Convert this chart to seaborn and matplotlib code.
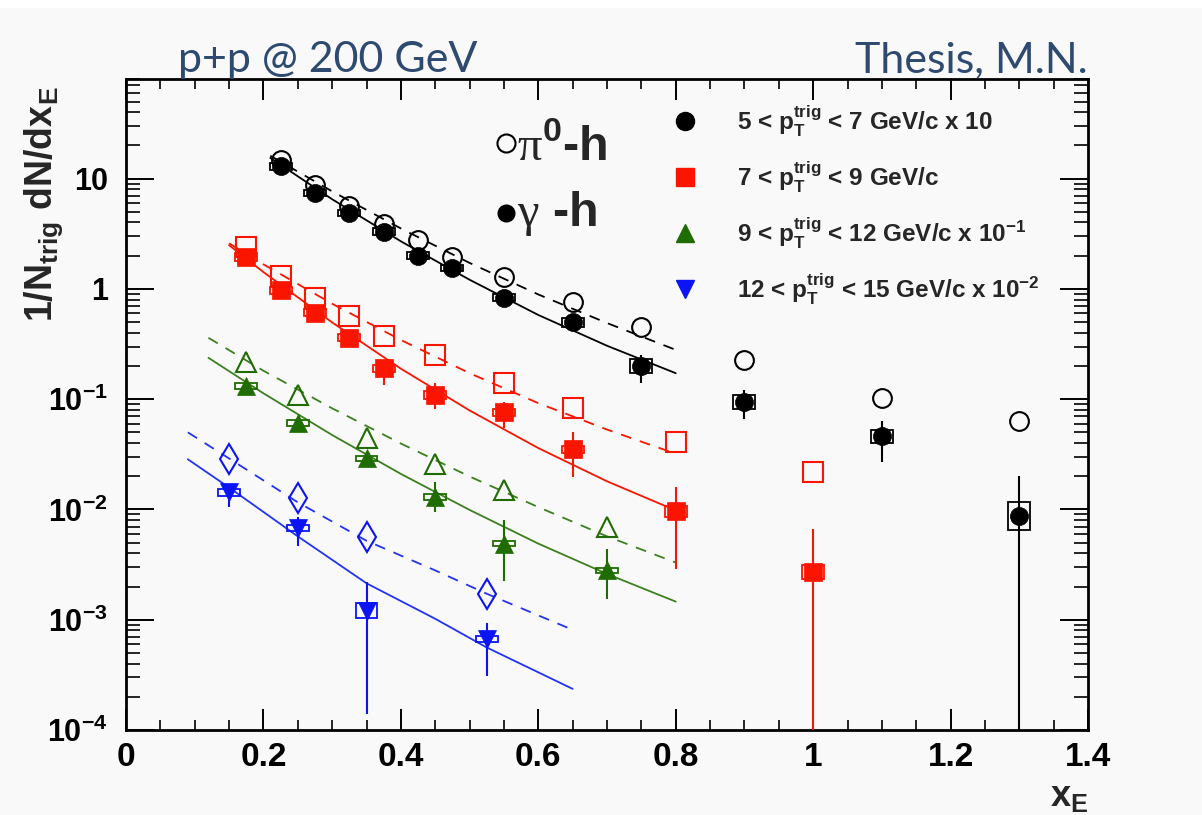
import numpy as np
import pandas as pd
import matplotlib
matplotlib.use('Agg')
import matplotlib.pyplot as plt
import seaborn as sns
from matplotlib.patches import Rectangle
from matplotlib.ticker import FixedLocator, FixedFormatter, MultipleLocator, NullFormatter

# ---------------- data ----------------
# 5 < pT < 7 GeV/c (x10)
bk_x = [0.225, 0.275, 0.325, 0.375, 0.425, 0.475, 0.55, 0.65, 0.75, 0.9, 1.1, 1.3]
bk_gamma = [12.9, 7.4, 4.9, 3.3, 2.0, 1.55, 0.83, 0.50, 0.20, 0.094, 0.046, 0.0087]
bk_gamma_lo = [12.2, 7.0, 4.6, 3.1, 1.9, 1.47, 0.78, 0.45, 0.14, 0.066, 0.027, 5e-5]
bk_gamma_hi = [13.6, 7.8, 5.2, 3.5, 2.1, 1.65, 0.88, 0.55, 0.25, 0.12, 0.063, 0.020]
bk_sys = [0.07, 0.07, 0.07, 0.07, 0.07, 0.07, 0.08, 0.10, 0.15, 0.15, 0.15, 0.35]
bk_pi = [14.8, 8.7, 5.7, 3.9, 2.8, 1.95, 1.29, 0.76, 0.45, 0.226, 0.102, 0.064]

# 7 < pT < 9 GeV/c
rd_x = [0.175, 0.225, 0.275, 0.325, 0.375, 0.45, 0.55, 0.65, 0.8, 1.0]
rd_gamma = [1.95, 0.97, 0.61, 0.36, 0.19, 0.109, 0.076, 0.035, 0.0096, 0.0027]
rd_gamma_lo = [1.85, 0.92, 0.58, 0.34, 0.134, 0.081, 0.055, 0.0195, 0.0029, 5e-5]
rd_gamma_hi = [2.05, 1.02, 0.64, 0.38, 0.226, 0.14, 0.094, 0.05, 0.016, 0.0067]
rd_sys = [0.08, 0.08, 0.08, 0.08, 0.08, 0.08, 0.08, 0.08, 0.12, 0.15]
rd_pi = [2.4, 1.31, 0.83, 0.57, 0.374, 0.25, 0.14, 0.083, 0.041, 0.0218]

# 9 < pT < 12 GeV/c (x0.1)
gr_x = [0.175, 0.25, 0.35, 0.45, 0.55, 0.7]
gr_gamma = [0.131, 0.0605, 0.029, 0.0129, 0.0049, 0.0028]
gr_gamma_lo = [0.124, 0.057, 0.027, 0.0094, 0.00226, 0.00155]
gr_gamma_hi = [0.138, 0.064, 0.031, 0.0176, 0.0081, 0.0044]
gr_sys = [0.06, 0.06, 0.06, 0.06, 0.06, 0.06]
gr_pi = [0.217, 0.109, 0.044, 0.026, 0.0149, 0.0069]

# 12 < pT < 15 GeV/c (x0.01)
bl_x = [0.15, 0.25, 0.35, 0.525]
bl_gamma = [0.0143, 0.0068, 0.00121, 0.00067]
bl_gamma_lo = [0.0105, 0.0047, 0.00014, 0.000306]
bl_gamma_hi = [0.016, 0.0085, 0.0022, 0.00094]
bl_sys = [0.07, 0.07, 0.16, 0.07]
bl_pi = [0.0285, 0.0126, 0.0056, 0.00172]

# fit curves (solid: gamma-h, dashed: pi0-h)
bk_fit_x = [0.21, 0.3, 0.4, 0.5, 0.6, 0.7, 0.8]
bk_fit_solid = [15.4, 6.5, 2.7, 1.21, 0.58, 0.305, 0.172]
bk_fit_dash = [16.1, 7.66, 3.53, 1.72, 0.89, 0.49, 0.28]
rd_fit_x = [0.15, 0.2, 0.3, 0.4, 0.5, 0.6, 0.7, 0.8]
rd_fit_solid = [2.49, 1.42, 0.496, 0.189, 0.079, 0.036, 0.018, 0.0098]
rd_fit_dash = [2.59, 1.67, 0.733, 0.344, 0.172, 0.092, 0.053, 0.032]
gr_fit_x = [0.12, 0.2, 0.3, 0.4, 0.5, 0.6, 0.7, 0.8]
gr_fit_solid = [0.237, 0.113, 0.0473, 0.021, 0.0099, 0.0049, 0.0026, 0.00146]
gr_fit_dash = [0.36, 0.181, 0.0826, 0.0396, 0.0199, 0.0105, 0.0057, 0.0033]
bl_fit_x = [0.09, 0.15, 0.25, 0.35, 0.45, 0.525, 0.65]
bl_fit_solid = [0.0285, 0.0158, 0.0057, 0.00214, 0.00102, 0.00056, 0.000236]
bl_fit_dash = [0.050, 0.029, 0.0116, 0.0052, 0.0028, 0.00172, 0.00081]

legend_labels = [r'5 < $p_{T}^{trig}$ < 7 GeV/c x 10',
                 r'7 < $p_{T}^{trig}$ < 9 GeV/c',
                 r'9 < $p_{T}^{trig}$ < 12 GeV/c x 10$^{-1}$',
                 r'12 < $p_{T}^{trig}$ < 15 GeV/c x 10$^{-2}$']
x_ticks = [0, 0.2, 0.4, 0.6, 0.8, 1.0, 1.2, 1.4]
x_tick_labels = ['0', '0.2', '0.4', '0.6', '0.8', '1', '1.2', '1.4']
y_ticks = [1e-4, 1e-3, 1e-2, 1e-1, 1, 10]
y_tick_labels = ['10$^{-4}$', '10$^{-3}$', '10$^{-2}$', '10$^{-1}$', '1', '10']

# ---------------- style ----------------
sns.set_theme(style='ticks')
plt.rcParams['font.family'] = ['Liberation Sans', 'DejaVu Sans']
plt.rcParams['mathtext.fontset'] = 'custom'
plt.rcParams['mathtext.rm'] = 'Liberation Serif'
plt.rcParams['mathtext.bf'] = 'Liberation Sans:bold'
plt.rcParams['mathtext.it'] = 'Liberation Sans:italic'
plt.rcParams['mathtext.default'] = 'bf'

BG = '#f9f9f9'
BLACK = '#000000'
RED = '#f91500'
GREEN = '#1f6c00'
GREEN_L = '#3c7f1e'
BLUE = '#0a14f5'
BLUE_L = '#2233f5'
TITLE_C = '#2e4a70'

W, H = 1202, 815
fig = plt.figure(figsize=(W / 100, H / 100), dpi=100, facecolor=BG)
fig.patches.append(Rectangle((0, 1 - 8 / H), 1, 8 / H, transform=fig.transFigure,
                             facecolor='white', edgecolor='none', zorder=0))
L, R, T, B = 126, 1088, 79, 730
ax = fig.add_axes([L / W, 1 - B / H, (R - L) / W, (B - T) / H])
ax.set_facecolor(BG)
ax.set_yscale('log')
ax.set_xlim(0, 1.4)
ax.set_ylim(1e-4, 80)

dash = (0, (6, 5))
series = [
    (bk_x, bk_gamma, bk_gamma_lo, bk_gamma_hi, bk_sys, bk_pi, 'o', 'o', BLACK, BLACK,
     bk_fit_x, bk_fit_solid, bk_fit_dash, 13, 13.5),
    (rd_x, rd_gamma, rd_gamma_lo, rd_gamma_hi, rd_sys, rd_pi, 's', 's', RED, RED,
     rd_fit_x, rd_fit_solid, rd_fit_dash, 13, 14),
    (gr_x, gr_gamma, gr_gamma_lo, gr_gamma_hi, gr_sys, gr_pi, '^', '^', GREEN, GREEN_L,
     gr_fit_x, gr_fit_solid, gr_fit_dash, 13, 14),
    (bl_x, bl_gamma, bl_gamma_lo, bl_gamma_hi, bl_sys, bl_pi, 'v', 'd', BLUE, BLUE_L,
     bl_fit_x, bl_fit_solid, bl_fit_dash, 13, 15),
]

for (xs, yg, ylo, yhi, sysr, ypi, mf, mo, c, cl, fx, fs, fd, msf, mso) in series:
    sns.lineplot(x=fx, y=fs, color=cl, linewidth=1.3, ax=ax, zorder=2,
                 estimator=None, sort=False, legend=False)
    sns.lineplot(x=fx, y=fd, color=cl, linewidth=1.3, linestyle=dash, ax=ax, zorder=2,
                 estimator=None, sort=False, legend=False)
    xs_a = np.array(xs); yg_a = np.array(yg)
    ax.errorbar(xs_a, yg_a, yerr=[yg_a - np.array(ylo), np.array(yhi) - yg_a],
                fmt='none', ecolor=c, elinewidth=1.5, capsize=0, zorder=3)
    for xi, yi, r in zip(xs, yg, sysr):
        lo, hi = yi / (1 + r), yi * (1 + r)
        ax.add_patch(Rectangle((xi - 0.016, lo), 0.032, hi - lo, fill=False,
                               edgecolor=c, linewidth=1.3, zorder=3))
    ax.plot(xs, ypi, linestyle='none', marker=mo, ms=mso, mfc='none', mec=c,
            mew=1.5, zorder=4)
    ax.plot(xs, yg, linestyle='none', marker=mf, ms=msf, mfc=c, mec=c,
            mew=0.5, zorder=5)

# ---------------- axes / ticks ----------------
for s in ax.spines.values():
    s.set_linewidth(2.0)
    s.set_color('black')
ax.xaxis.set_major_locator(FixedLocator(x_ticks))
ax.xaxis.set_major_formatter(FixedFormatter(x_tick_labels))
ax.xaxis.set_minor_locator(MultipleLocator(0.05))
ax.yaxis.set_major_locator(FixedLocator(y_ticks))
ax.yaxis.set_major_formatter(FixedFormatter(y_tick_labels))
ax.yaxis.set_minor_locator(matplotlib.ticker.LogLocator(base=10, subs=np.arange(2, 10), numticks=20))
ax.yaxis.set_minor_formatter(NullFormatter())
ax.tick_params(which='both', direction='in', top=True, right=True, colors='black')
ax.tick_params(axis='x', which='major', length=15, width=1.4, pad=9, labelsize=24)
ax.tick_params(axis='x', which='minor', length=7, width=1.2)
ax.tick_params(axis='y', which='major', length=20, width=1.4, pad=13, labelsize=22)
ax.tick_params(axis='y', which='minor', length=10, width=1.2)
for lab in ax.get_xticklabels() + ax.get_yticklabels():
    lab.set_fontweight('bold')

# axis titles
fig.text(1088 / W, 1 - 796 / H, r'x$_{E}$', ha='right', va='center',
         fontsize=26, fontweight='bold')
fig.text(44 / W, 1 - 86 / H, r'1/N$_{trig}$ dN/dx$_{E}$', rotation=90, ha='center',
         va='top', fontsize=27, fontweight='bold')

# top annotations
fig.text(178 / W, 1 - 72 / H, 'p+p @ 200 GeV', family='Lato', fontsize=31,
         color=TITLE_C, va='baseline', ha='left')
fig.text(1088 / W, 1 - 72 / H, 'Thesis, M.N.', family='Lato', fontsize=31,
         color=TITLE_C, va='baseline', ha='right')

# legend of pT bins
def axfrac(px, py):
    return ((px - L) / (R - L), 1 - (py - T) / (B - T))

leg_markers = [('o', BLACK), ('s', RED), ('^', GREEN), ('v', BLUE)]
leg_rows = [121, 177, 233, 289]
for (m, c), lab, py in zip(leg_markers, legend_labels, leg_rows):
    mx, my = axfrac(685, py)
    ax.plot([mx], [my], marker=m, ms=13, mfc=c, mec=c, linestyle='none',
            transform=ax.transAxes, clip_on=False, zorder=6)
    tx, ty = axfrac(737, py)
    ax.text(tx, ty, lab, transform=ax.transAxes, ha='left', va='center',
            fontsize=17.5, fontweight='bold')

# pi0-h / gamma-h key
mx, my = axfrac(506, 143)
ax.plot([mx], [my], marker='o', ms=13, mfc='none', mec='black', mew=1.5,
        transform=ax.transAxes, linestyle='none', zorder=6)
tx, ty = axfrac(517, 147)
ax.text(tx, ty, r'$\mathrm{\pi}^{0}$-h', transform=ax.transAxes, ha='left',
        va='center', fontsize=35, fontweight='bold')
mx, my = axfrac(506, 213)
ax.plot([mx], [my], marker='o', ms=12, mfc='black', mec='black',
        transform=ax.transAxes, linestyle='none', zorder=6)
tx, ty = axfrac(517, 214)
ax.text(tx, ty, r'$\mathrm{\gamma}$ -h', transform=ax.transAxes, ha='left',
        va='center', fontsize=35, fontweight='bold')

fig.savefig('out.png', dpi=100, facecolor=BG)
